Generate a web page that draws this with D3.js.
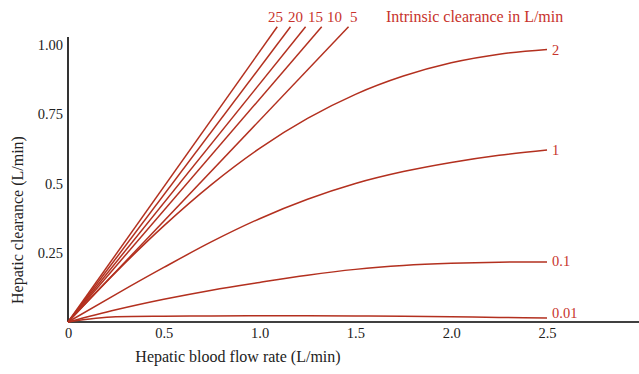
<!DOCTYPE html>
<html>
<head>
<meta charset="utf-8">
<script src="https://cdn.jsdelivr.net/npm/d3@7"></script>
<style>
  html, body { margin: 0; padding: 0; background: #fff; }
  svg { display: block; }
</style>
</head>
<body>
<svg id="chart" width="639" height="374"></svg>
<script>
// ---- data ----
const steepLabels = ["25", "20", "15", "10", "5"];
const steepEndX = [1.092, 1.161, 1.24, 1.324, 1.464];
const steepEndY = 1.066;

const curveLabels = ["2", "1", "0.1", "0.01"];
const curveX = [0, 0.25, 0.5, 0.75, 1.0, 1.25, 1.5, 1.75, 2.0, 2.25, 2.5];
const curve2 = [0, 0.18, 0.347, 0.497, 0.627, 0.735, 0.822, 0.888, 0.936, 0.967, 0.984];
const curve1 = [0, 0.10, 0.197, 0.29, 0.373, 0.443, 0.50, 0.543, 0.576, 0.602, 0.621];
const curve01 = [0, 0.044, 0.082, 0.115, 0.143, 0.169, 0.19, 0.204, 0.212, 0.216, 0.217];
const curve001 = [0, 0.019, 0.021, 0.022, 0.023, 0.0225, 0.022, 0.0205, 0.019, 0.0165, 0.014];

const xTicks = [0, 0.5, 1.0, 1.5, 2.0, 2.5];
const xTickLabels = ["0", "0.5", "1.0", "1.5", "2.0", "2.5"];
const yTicks = [0.25, 0.5, 0.75, 1.0];
const yTickLabels = ["0.25", "0.5", "0.75", "1.00"];

const legendTitle = "Intrinsic clearance in L/min";
const xTitle = "Hepatic blood flow rate (L/min)";
const yTitle = "Hepatic clearance (L/min)";

// ---- layout ----
const svg = d3.select("#chart");
const font = "'Liberation Serif', 'Times New Roman', serif";
const lineColor = "#b3301f";
const labelColor = "#c8332c";

const x = d3.scaleLinear().domain([0, 2.98]).range([68, 639]);
const y = d3.scaleLinear().domain([0, 1.029]).range([322, 37]);

// axes lines
svg.append("line")
  .attr("x1", x(0)).attr("x2", x(0)).attr("y1", y(1.029)).attr("y2", y(0))
  .attr("stroke", "#000").attr("stroke-width", 1.6);
svg.append("line")
  .attr("x1", x(0)).attr("x2", x(2.98)).attr("y1", y(0)).attr("y2", y(0))
  .attr("stroke", "#000").attr("stroke-width", 1.6);

const xAxis = d3.axisBottom(x).tickValues(xTicks).tickSize(0).tickPadding(6)
  .tickFormat((d, i) => xTickLabels[i]);
const gx = svg.append("g").attr("transform", `translate(0,${y(0)})`).call(xAxis);
gx.select(".domain").remove();
gx.selectAll("text").attr("font-family", font).attr("font-size", 14.5).attr("fill", "#222");

const yAxis = d3.axisLeft(y).tickValues(yTicks).tickSize(0).tickPadding(5)
  .tickFormat((d, i) => yTickLabels[i]);
const gy = svg.append("g").attr("transform", `translate(${x(0)},0)`).call(yAxis);
gy.select(".domain").remove();
gy.selectAll("text").attr("font-family", font).attr("font-size", 14.5).attr("fill", "#222");

// lines
const lineGen = d3.line().x(d => x(d[0])).y(d => y(d[1])).curve(d3.curveMonotoneX);

steepEndX.forEach((ex) => {
  svg.append("path")
    .attr("d", lineGen([[0, 0], [ex, steepEndY]]))
    .attr("fill", "none").attr("stroke", lineColor).attr("stroke-width", 1.5);
});

const curves = [curve2, curve1, curve01, curve001];
const labelDy = [6, 5, 4, 0];
curves.forEach((vals, k) => {
  const pts = curveX.map((cx, i) => [cx, vals[i]]);
  svg.append("path")
    .attr("d", lineGen(pts))
    .attr("fill", "none").attr("stroke", lineColor).attr("stroke-width", 1.5);
  svg.append("text")
    .attr("x", x(curveX[curveX.length - 1]) + 5)
    .attr("y", y(vals[vals.length - 1]) + labelDy[k])
    .attr("font-family", font).attr("font-size", 14.5).attr("fill", labelColor)
    .text(curveLabels[k]);
});

// top labels for steep lines
const topLabelX = [268, 288, 308, 327, 350];
steepLabels.forEach((t, i) => {
  svg.append("text")
    .attr("x", topLabelX[i]).attr("y", 22)
    .attr("font-family", font).attr("font-size", 15).attr("fill", labelColor)
    .text(t);
});
svg.append("text")
  .attr("x", 386).attr("y", 22)
  .attr("font-family", font).attr("font-size", 16).attr("fill", labelColor)
  .text(legendTitle);

// axis titles
svg.append("text")
  .attr("x", 238).attr("y", 362).attr("text-anchor", "middle")
  .attr("font-family", font).attr("font-size", 16).attr("fill", "#222")
  .text(xTitle);
svg.append("text")
  .attr("transform", "translate(23,220) rotate(-90)").attr("text-anchor", "middle")
  .attr("font-family", font).attr("font-size", 16).attr("fill", "#222")
  .text(yTitle);
</script>
</body>
</html>
